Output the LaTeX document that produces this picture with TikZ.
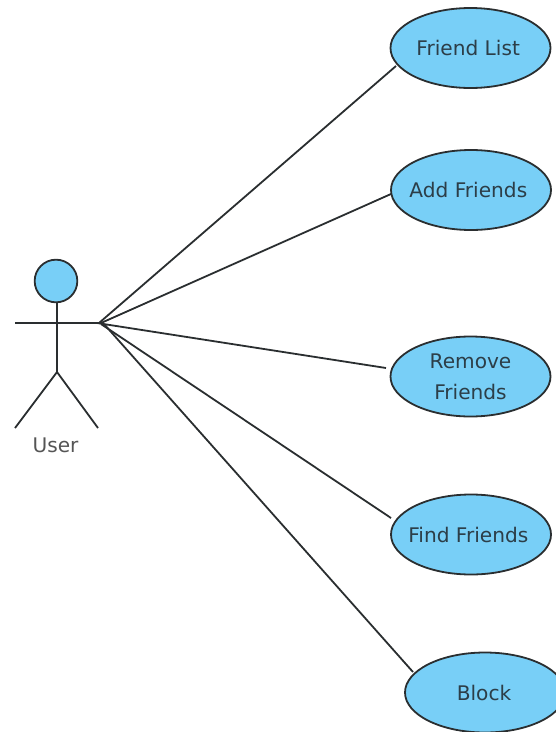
\documentclass[tikz,border=0pt]{standalone}
\usepackage{fontspec}
\setmainfont{DejaVu Sans}
\usetikzlibrary{shapes.geometric}
\definecolor{fillblue}{HTML}{78CFF7}
\definecolor{linegray}{HTML}{2A2E30}
\definecolor{textgray}{HTML}{2C3E48}
\definecolor{usergray}{HTML}{555555}
\tikzset{
  px/.style={x=0.75pt,y=-0.75pt},
  usecase/.style={ellipse,draw=linegray,fill=fillblue,line width=1.35pt,inner xsep=-20pt,inner ysep=-10pt,text=textgray,font=\fontsize{15.1}{23}\selectfont,align=center,minimum width=120pt,minimum height=60pt},
  conn/.style={draw=linegray,line width=1.35pt},
}
\begin{document}
\begin{tikzpicture}[px]
\useasboundingbox (0,0) rectangle (556,732);
\node[usecase] (fl) at (470.5,48) {Friend List\hspace*{3.5pt}};
\node[usecase] (af) at (471,190) {Add Friends\hspace*{4pt}};
\node[usecase] (rf) at (470.5,376.5) {Remove\\Friends};
\node[usecase] (ff) at (471,534.5) {Find Friends\hspace*{4pt}};
\node[usecase] (bl) at (485,692.5) {Block\hspace*{1.5pt}};
\node[circle,draw=linegray,fill=fillblue,line width=1.35pt,minimum size=32pt,inner sep=0pt] (head) at (56,281) {};
\coordinate (hub) at (102,323.2);
\coordinate (armL) at (15,323.2);
\coordinate (hip) at (57,372);
\coordinate (legL) at (15,428);
\coordinate (legR) at (98,428);
\draw[conn] (head.south -| hip) -- (hip);
\draw[conn] (armL) -- (hub);
\draw[conn] (legL) -- (hip) -- (legR);
\node[text=usergray,font=\fontsize{15.1}{18}\selectfont] (user) at (55.5,445) {User};
\coordinate (c1) at (99,323);
\coordinate (c2) at (101,323);
\coordinate (c3) at (97,323);
\coordinate (c4) at (101,324);
\coordinate (c5) at (104,324);
\coordinate (e1) at (396,66);
\coordinate (e2) at (391,194);
\coordinate (e3) at (386,368);
\coordinate (e4) at (391,518);
\coordinate (e5) at (413,672);
\draw[conn] (c1) -- (e1);
\draw[conn] (c2) -- (e2);
\draw[conn] (c3) -- (e3);
\draw[conn] (c4) -- (e4);
\draw[conn] (c5) -- (e5);
\end{tikzpicture}
\end{document}
